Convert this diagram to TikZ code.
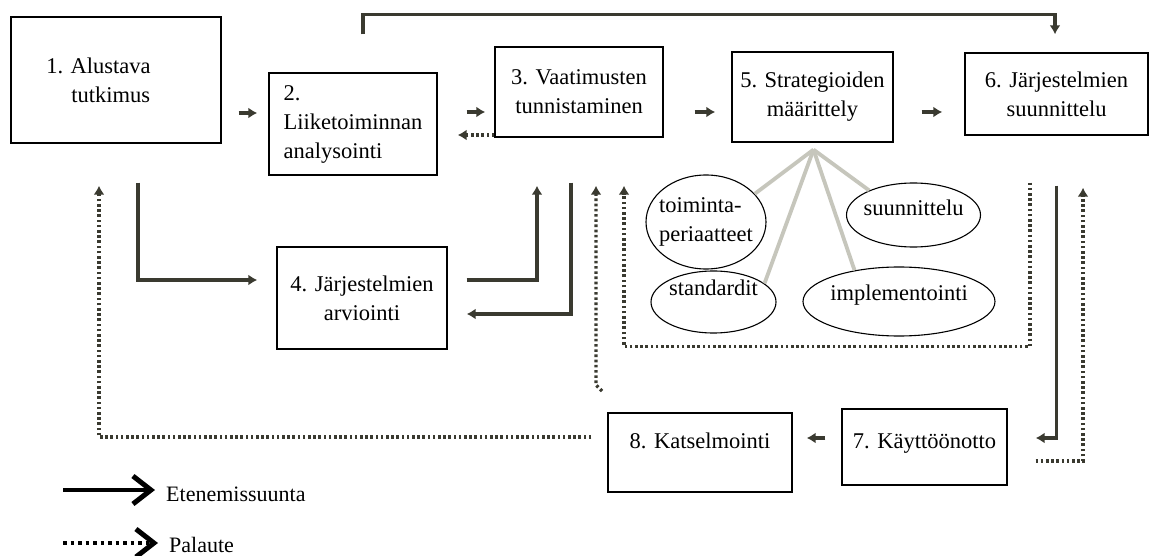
\documentclass[tikz,border=0pt]{standalone}
\usepackage{fontspec}
\setmainfont{Liberation Serif}
\usepackage{xcolor}
\usepackage{tikz}
\usetikzlibrary{arrows.meta, calc, shapes.geometric}

\definecolor{linegray}{RGB}{58,58,48}
\definecolor{fangray}{RGB}{198,198,188}

\begin{document}
\begin{tikzpicture}[
		  x=1pt, y=-1pt,
		  font=\fontsize{22.5pt}{29pt}\selectfont,
		  box/.style={
		    draw,
		    line width=1.3pt,
		    align=center
		  },
		  oval/.style={draw, ellipse, line width=1.1pt, inner sep=-10pt},
		  raised/.style={text height=16pt, text depth=#1},
		  arrow/.style={-{Latex[length=9pt,width=11pt]}, line width=3.6pt, draw=linegray},
		  fbarrow/.style={-{Latex[length=9pt,width=11pt]}, line width=3.4pt, draw=linegray, dash pattern=on 2.6pt off 2.6pt},
		  fanline/.style={line width=3.8pt, draw=fangray},
		  legendarrow/.style={-{Straight Barb[length=18pt,width=28pt,line width=5pt]}, line width=3.6pt, shorten >=8pt},
		  legenddots/.style={legendarrow, dash pattern=on 3.5pt off 4pt}
		]

		\path[use as bounding box, fill=white] (0,0) rectangle (1152,556);

		% --- upper row ---
		\node[box, align=left, minimum width=210pt, minimum height=126pt] (b1) at (116,80) {1. Alustava\hspace*{35pt}\\\hspace*{25pt}tutkimus};
		\node[box, align=left, minimum width=168pt, minimum height=102pt] (b2) at (353,124) {2.\\Liiketoiminnan\\analysointi};
		\node[box, minimum width=168pt, minimum height=90pt] (b3) at (579,92) {3. Vaatimusten\\tunnistaminen};
		\node[box, minimum width=161pt, minimum height=90pt] (b5) at (812.5,97) {5. Strategioiden\\määrittely};
		\node[box, minimum width=183pt, minimum height=82pt] (b6) at (1056.5,94) {6. Järjestelmien\\suunnittelu};

		% --- middle and lower row ---
		\node[box, minimum width=170pt, minimum height=102pt] (b4) at (362,298) {4. Järjestelmien\\arviointi};
		\node[box, raised=24pt, minimum width=184pt, minimum height=79pt] (b8) at (700,452.5) {8. Katselmointi};
		\node[box, raised=13pt, minimum width=165pt, minimum height=76pt] (b7) at (924.5,447) {7. Käyttöönotto};

		% --- strategy parts ---
		\node[oval, align=left, minimum width=120pt, minimum height=94pt] (e1) at (706,222) {toiminta-\\periaatteet};
		\node[oval, raised=29pt, minimum width=125pt, minimum height=62pt] (e2) at (713.5,302) {standardit};
		\node[oval, raised=18pt, minimum width=192pt, minimum height=69pt] (e3) at (899,301.5) {implementointi};
		\node[oval, raised=15pt, minimum width=134pt, minimum height=64pt] (e4) at (913.5,215) {suunnittelu};

		\coordinate (fan) at ($(b5.south)+(1,7)$);
		\draw[fanline] (fan) -- (e1.30);
		\draw[fanline] (fan) -- (e2.20);
		\draw[fanline] (fan) -- (e3.145);
		\draw[fanline] (fan) -- (e4.151);

		% --- forward arrows ---
		\draw[arrow] ($(b1.east)+(17,33)$) -- ($(b2.west)+(-11,-11)$);
		\draw[arrow] ($(b2.east)+(29,-12)$) -- ($(b3.west)+(-9,20)$);
		\draw[arrow] ($(b3.east)+(31,20)$) -- ($(b5.west)+(-16,15)$);
		\draw[arrow] ($(b5.east)+(28,15)$) -- ($(b6.west)+(-22,18)$);
		\draw[arrow] ($(b2.north)+(10,-38)$) -- ++(0,-20) -| ($(b6.north)+(-1.5,-18)$);
		\draw[arrow] ($(b1.south)+(22,39)$) |- ($(b4.west)+(-19,-18)$);
		\draw[arrow] ($(b4.east)+(19,-18)$) -| ($(b3.south)+(-42,48)$);
		\draw[arrow] ($(b3.south)+(-8,45)$) |- ($(b4.east)+(19,16)$);
		\draw[arrow] ($(b6.south)+(0,50)$) |- ($(b7.east)+(28,-9)$);
		\draw[arrow] ($(b7.west)+(-16,-9)$) -- ($(b8.east)+(14,-14.5)$);

		% --- feedback arrows ---
		\draw[fbarrow] ($(b3.west)+(0,43)$) -- ($(b2.east)+(20,11)$);
		\draw[fbarrow] ($(b8.west)+(-16,-15.5)$) -| ($(b1.south)+(-17,42)$);
		\draw[fbarrow] ($(b6.south)+(-26.5,47)$) -- ++(0,164) -| ($(b3.south)+(45,48)$);
		\draw[fbarrow] ($(b7.east)+(28,14)$) -| ($(b6.south)+(26.5,52)$);
		\coordinate (loose) at (602,391);
		\draw[fbarrow] (loose) -- ++(-6,-6) -- ($(b3.south)+(17,48)$);

		% --- legend ---
		\coordinate (lg1) at (63,490);
		\coordinate (lg2) at (63,543);
		\node[anchor=west, inner sep=3pt, font=\fontsize{22pt}{26pt}\selectfont] (leg1) at (163,494) {Etenemissuunta};
		\node[anchor=west, inner sep=3pt, font=\fontsize{22pt}{26pt}\selectfont] (leg2) at (166,545) {Palaute};
		\draw[legendarrow] (lg1) -- (leg1.west |- lg1);
		\draw[legenddots] (lg2) -- (leg2.west |- lg2);

		\end{tikzpicture}
\end{document}
